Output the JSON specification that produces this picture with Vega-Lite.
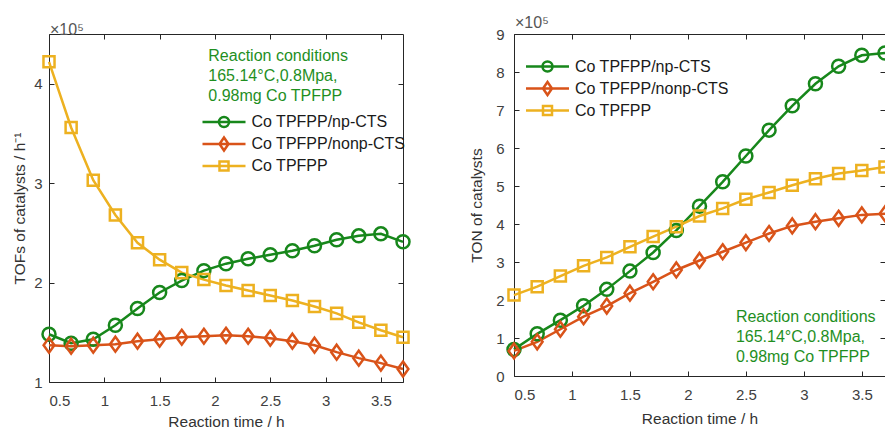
{
  "$schema": "https://vega.github.io/schema/vega-lite/v6.json",
  "padding": {"left": 12, "top": 14, "right": 0, "bottom": 0},
  "spacing": 111,
  "bounds": "flush",
  "background": "white",
  "config": {
    "font": "Liberation Sans",
    "view": {"stroke": "#262626", "strokeWidth": 1},
    "axis": {
      "labelFont": "Liberation Sans", "labelFontSize": 15, "labelColor": "#404040",
      "titleFont": "Liberation Sans", "titleFontSize": 15.5, "titleFontWeight": "normal", "titleColor": "#333333",
      "tickColor": "#262626", "tickSize": -5, "tickWidth": 1, "domain": false, "grid": false
    },
    "legend": {
      "labelFont": "Liberation Sans", "labelFontSize": 16, "labelColor": "#1a1a1a",
      "symbolSize": 100, "symbolStrokeWidth": 2.5, "labelOffset": 19.5, "rowPadding": 0
    }
  },
  "datasets": {
    "tof": [
      {"t": 0.5, "s": "Co TPFPP/np-CTS", "v": 1.48}, {"t": 0.7, "s": "Co TPFPP/np-CTS", "v": 1.39}, {"t": 0.9, "s": "Co TPFPP/np-CTS", "v": 1.43},
      {"t": 1.1, "s": "Co TPFPP/np-CTS", "v": 1.57}, {"t": 1.3, "s": "Co TPFPP/np-CTS", "v": 1.74}, {"t": 1.5, "s": "Co TPFPP/np-CTS", "v": 1.90},
      {"t": 1.7, "s": "Co TPFPP/np-CTS", "v": 2.02}, {"t": 1.9, "s": "Co TPFPP/np-CTS", "v": 2.12}, {"t": 2.1, "s": "Co TPFPP/np-CTS", "v": 2.19},
      {"t": 2.3, "s": "Co TPFPP/np-CTS", "v": 2.24}, {"t": 2.5, "s": "Co TPFPP/np-CTS", "v": 2.28}, {"t": 2.7, "s": "Co TPFPP/np-CTS", "v": 2.32},
      {"t": 2.9, "s": "Co TPFPP/np-CTS", "v": 2.37}, {"t": 3.1, "s": "Co TPFPP/np-CTS", "v": 2.43}, {"t": 3.3, "s": "Co TPFPP/np-CTS", "v": 2.47},
      {"t": 3.5, "s": "Co TPFPP/np-CTS", "v": 2.49}, {"t": 3.7, "s": "Co TPFPP/np-CTS", "v": 2.41},
      {"t": 0.5, "s": "Co TPFPP/nonp-CTS", "v": 1.37}, {"t": 0.7, "s": "Co TPFPP/nonp-CTS", "v": 1.36}, {"t": 0.9, "s": "Co TPFPP/nonp-CTS", "v": 1.37},
      {"t": 1.1, "s": "Co TPFPP/nonp-CTS", "v": 1.38}, {"t": 1.3, "s": "Co TPFPP/nonp-CTS", "v": 1.41}, {"t": 1.5, "s": "Co TPFPP/nonp-CTS", "v": 1.43},
      {"t": 1.7, "s": "Co TPFPP/nonp-CTS", "v": 1.45}, {"t": 1.9, "s": "Co TPFPP/nonp-CTS", "v": 1.46}, {"t": 2.1, "s": "Co TPFPP/nonp-CTS", "v": 1.47},
      {"t": 2.3, "s": "Co TPFPP/nonp-CTS", "v": 1.46}, {"t": 2.5, "s": "Co TPFPP/nonp-CTS", "v": 1.44}, {"t": 2.7, "s": "Co TPFPP/nonp-CTS", "v": 1.41},
      {"t": 2.9, "s": "Co TPFPP/nonp-CTS", "v": 1.37}, {"t": 3.1, "s": "Co TPFPP/nonp-CTS", "v": 1.30}, {"t": 3.3, "s": "Co TPFPP/nonp-CTS", "v": 1.24},
      {"t": 3.5, "s": "Co TPFPP/nonp-CTS", "v": 1.19}, {"t": 3.7, "s": "Co TPFPP/nonp-CTS", "v": 1.13},
      {"t": 0.5, "s": "Co TPFPP", "v": 4.22}, {"t": 0.7, "s": "Co TPFPP", "v": 3.56}, {"t": 0.9, "s": "Co TPFPP", "v": 3.03},
      {"t": 1.1, "s": "Co TPFPP", "v": 2.68}, {"t": 1.3, "s": "Co TPFPP", "v": 2.40}, {"t": 1.5, "s": "Co TPFPP", "v": 2.23},
      {"t": 1.7, "s": "Co TPFPP", "v": 2.10}, {"t": 1.9, "s": "Co TPFPP", "v": 2.03}, {"t": 2.1, "s": "Co TPFPP", "v": 1.97},
      {"t": 2.3, "s": "Co TPFPP", "v": 1.92}, {"t": 2.5, "s": "Co TPFPP", "v": 1.87}, {"t": 2.7, "s": "Co TPFPP", "v": 1.82},
      {"t": 2.9, "s": "Co TPFPP", "v": 1.76}, {"t": 3.1, "s": "Co TPFPP", "v": 1.69}, {"t": 3.3, "s": "Co TPFPP", "v": 1.60},
      {"t": 3.5, "s": "Co TPFPP", "v": 1.52}, {"t": 3.7, "s": "Co TPFPP", "v": 1.45}
    ],
    "ton": [
      {"t": 0.5, "s": "Co TPFPP/np-CTS", "v": 0.70}, {"t": 0.7, "s": "Co TPFPP/np-CTS", "v": 1.11}, {"t": 0.9, "s": "Co TPFPP/np-CTS", "v": 1.47},
      {"t": 1.1, "s": "Co TPFPP/np-CTS", "v": 1.85}, {"t": 1.3, "s": "Co TPFPP/np-CTS", "v": 2.28}, {"t": 1.5, "s": "Co TPFPP/np-CTS", "v": 2.76},
      {"t": 1.7, "s": "Co TPFPP/np-CTS", "v": 3.25}, {"t": 1.9, "s": "Co TPFPP/np-CTS", "v": 3.83}, {"t": 2.1, "s": "Co TPFPP/np-CTS", "v": 4.47},
      {"t": 2.3, "s": "Co TPFPP/np-CTS", "v": 5.11}, {"t": 2.5, "s": "Co TPFPP/np-CTS", "v": 5.79}, {"t": 2.7, "s": "Co TPFPP/np-CTS", "v": 6.47},
      {"t": 2.9, "s": "Co TPFPP/np-CTS", "v": 7.11}, {"t": 3.1, "s": "Co TPFPP/np-CTS", "v": 7.69}, {"t": 3.3, "s": "Co TPFPP/np-CTS", "v": 8.15},
      {"t": 3.5, "s": "Co TPFPP/np-CTS", "v": 8.44}, {"t": 3.7, "s": "Co TPFPP/np-CTS", "v": 8.50},
      {"t": 0.5, "s": "Co TPFPP/nonp-CTS", "v": 0.66}, {"t": 0.7, "s": "Co TPFPP/nonp-CTS", "v": 0.90}, {"t": 0.9, "s": "Co TPFPP/nonp-CTS", "v": 1.23},
      {"t": 1.1, "s": "Co TPFPP/nonp-CTS", "v": 1.56}, {"t": 1.3, "s": "Co TPFPP/nonp-CTS", "v": 1.84}, {"t": 1.5, "s": "Co TPFPP/nonp-CTS", "v": 2.18},
      {"t": 1.7, "s": "Co TPFPP/nonp-CTS", "v": 2.48}, {"t": 1.9, "s": "Co TPFPP/nonp-CTS", "v": 2.79}, {"t": 2.1, "s": "Co TPFPP/nonp-CTS", "v": 3.04},
      {"t": 2.3, "s": "Co TPFPP/nonp-CTS", "v": 3.27}, {"t": 2.5, "s": "Co TPFPP/nonp-CTS", "v": 3.51}, {"t": 2.7, "s": "Co TPFPP/nonp-CTS", "v": 3.75},
      {"t": 2.9, "s": "Co TPFPP/nonp-CTS", "v": 3.95}, {"t": 3.1, "s": "Co TPFPP/nonp-CTS", "v": 4.06}, {"t": 3.3, "s": "Co TPFPP/nonp-CTS", "v": 4.15},
      {"t": 3.5, "s": "Co TPFPP/nonp-CTS", "v": 4.24}, {"t": 3.7, "s": "Co TPFPP/nonp-CTS", "v": 4.27},
      {"t": 0.5, "s": "Co TPFPP", "v": 2.13}, {"t": 0.7, "s": "Co TPFPP", "v": 2.35}, {"t": 0.9, "s": "Co TPFPP", "v": 2.63},
      {"t": 1.1, "s": "Co TPFPP", "v": 2.90}, {"t": 1.3, "s": "Co TPFPP", "v": 3.12}, {"t": 1.5, "s": "Co TPFPP", "v": 3.40},
      {"t": 1.7, "s": "Co TPFPP", "v": 3.67}, {"t": 1.9, "s": "Co TPFPP", "v": 3.93}, {"t": 2.1, "s": "Co TPFPP", "v": 4.21},
      {"t": 2.3, "s": "Co TPFPP", "v": 4.41}, {"t": 2.5, "s": "Co TPFPP", "v": 4.65}, {"t": 2.7, "s": "Co TPFPP", "v": 4.83},
      {"t": 2.9, "s": "Co TPFPP", "v": 5.02}, {"t": 3.1, "s": "Co TPFPP", "v": 5.19}, {"t": 3.3, "s": "Co TPFPP", "v": 5.33},
      {"t": 3.5, "s": "Co TPFPP", "v": 5.41}, {"t": 3.7, "s": "Co TPFPP", "v": 5.50}
    ]
  },
  "resolve": {"scale": {"color": "independent"}, "legend": {"color": "independent"}},
  "hconcat": [
    {
      "width": 354, "height": 348,
      "title": {"text": "×10⁵", "anchor": "start", "frame": "group", "fontSize": 16, "fontWeight": "normal", "color": "#555555", "font": "Liberation Sans", "offset": -4, "dx": 1},
      "data": {"name": "tof"},
      "resolve": {"axis": {"x": "independent", "y": "independent"}},
      "layer": [
        {
          "mark": {"type": "line", "strokeWidth": 2.5},
          "encoding": {
            "x": {"field": "t", "type": "quantitative", "scale": {"domain": [0.5, 3.7], "nice": false, "zero": false},
                  "axis": {"title": "Reaction time / h", "values": [0.5, 1, 1.5, 2, 2.5, 3, 3.5], "format": "~g", "labelPadding": 16, "titlePadding": 6}},
            "y": {"field": "v", "type": "quantitative", "scale": {"domain": [1, 4.5], "nice": false, "zero": false},
                  "axis": {"title": "TOFs of catalysts / h⁻¹", "values": [1, 2, 3, 4], "format": "~g", "labelPadding": 12, "titlePadding": 6}},
            "color": {"field": "s", "type": "nominal",
                      "scale": {"domain": ["Co TPFPP/np-CTS", "Co TPFPP/nonp-CTS", "Co TPFPP"], "range": ["#17871b", "#d95319", "#edb120"]},
                      "legend": {"orient": "none", "legendX": 167, "legendY": 80, "title": null,
                                 "encode": {"symbols": {"update": {"shape": {"signal": "datum.value === 'Co TPFPP' ? 'M-4.3,0H4.3M-0.9,-0.9H0.9V0.9H-0.9Z' : datum.value === 'Co TPFPP/np-CTS' ? 'M-4.3,0H4.3M-1,0A1,1,0,1,1,1,0A1,1,0,1,1,-1,0Z' : 'M-4.3,0H4.3M0,-1.3L0.9,0L0,1.3L-0.9,0Z'"}, "fill": {"value": "transparent"}, "strokeWidth": {"value": 2.5}}}}}}
          }
        },
        {
          "transform": [{"filter": "datum.s === 'Co TPFPP/np-CTS'"}],
          "mark": {"type": "point", "shape": "circle", "filled": false, "strokeWidth": 2.5, "opacity": 1, "size": 169},
          "encoding": {
            "x": {"field": "t", "type": "quantitative", "axis": null},
            "y": {"field": "v", "type": "quantitative", "axis": null},
            "color": {"field": "s", "type": "nominal"}
          }
        },
        {
          "transform": [{"filter": "datum.s === 'Co TPFPP/nonp-CTS'"}],
          "mark": {"type": "point", "shape": "M0,-1.15L0.83,0L0,1.15L-0.83,0Z", "filled": false, "strokeWidth": 2.5, "opacity": 1, "size": 169},
          "encoding": {
            "x": {"field": "t", "type": "quantitative", "axis": null},
            "y": {"field": "v", "type": "quantitative", "axis": null},
            "color": {"field": "s", "type": "nominal"}
          }
        },
        {
          "transform": [{"filter": "datum.s === 'Co TPFPP'"}],
          "mark": {"type": "point", "shape": "M-0.85,-0.85H0.85V0.85H-0.85Z", "filled": false, "strokeWidth": 2.5, "opacity": 1, "size": 169},
          "encoding": {
            "x": {"field": "t", "type": "quantitative", "axis": null},
            "y": {"field": "v", "type": "quantitative", "axis": null},
            "color": {"field": "s", "type": "nominal"}
          }
        },
        {
          "data": {"values": [{}]},
          "mark": {"type": "text", "text": ["Reaction conditions", "165.14°C,0.8Mpa,", "0.98mg Co TPFPP"], "align": "left", "baseline": "top", "fontSize": 16, "lineHeight": 20, "color": "#1f8f1f", "font": "Liberation Sans"},
          "encoding": {
            "x": {"datum": 1.94, "type": "quantitative", "axis": {"orient": "top", "labels": false, "title": null, "values": [0.5, 1, 1.5, 2, 2.5, 3, 3.5]}},
            "y": {"datum": 4.364, "type": "quantitative", "axis": {"orient": "right", "labels": false, "title": null, "values": [1, 2, 3, 4]}}
          }
        }
      ]
    },
    {
      "width": 371, "height": 342,
      "title": {"text": "×10⁵", "anchor": "start", "frame": "group", "fontSize": 16, "fontWeight": "normal", "color": "#555555", "font": "Liberation Sans", "offset": -4, "dx": 1},
      "data": {"name": "ton"},
      "resolve": {"axis": {"x": "independent", "y": "independent"}},
      "layer": [
        {
          "mark": {"type": "line", "strokeWidth": 2.5},
          "encoding": {
            "x": {"field": "t", "type": "quantitative", "scale": {"domain": [0.5, 3.7], "nice": false, "zero": false},
                  "axis": {"title": "Reaction time / h", "values": [0.5, 1, 1.5, 2, 2.5, 3, 3.5], "format": "~g", "labelPadding": 16, "titlePadding": 9}},
            "y": {"field": "v", "type": "quantitative", "scale": {"domain": [0, 9], "nice": false, "zero": false},
                  "axis": {"title": "TON of catalysts", "values": [0, 1, 2, 3, 4, 5, 6, 7, 8, 9], "format": "~g", "labelPadding": 15, "titlePadding": 11}},
            "color": {"field": "s", "type": "nominal",
                      "scale": {"domain": ["Co TPFPP/np-CTS", "Co TPFPP/nonp-CTS", "Co TPFPP"], "range": ["#17871b", "#d95319", "#edb120"]},
                      "legend": {"orient": "none", "legendX": 25.5, "legendY": 24.5, "title": null,
                                 "encode": {"symbols": {"update": {"shape": {"signal": "datum.value === 'Co TPFPP' ? 'M-4.3,0H4.3M-0.9,-0.9H0.9V0.9H-0.9Z' : datum.value === 'Co TPFPP/np-CTS' ? 'M-4.3,0H4.3M-1,0A1,1,0,1,1,1,0A1,1,0,1,1,-1,0Z' : 'M-4.3,0H4.3M0,-1.3L0.9,0L0,1.3L-0.9,0Z'"}, "fill": {"value": "transparent"}, "strokeWidth": {"value": 2.5}}}}}}
          }
        },
        {
          "transform": [{"filter": "datum.s === 'Co TPFPP/np-CTS'"}],
          "mark": {"type": "point", "shape": "circle", "filled": false, "strokeWidth": 2.5, "opacity": 1, "size": 169},
          "encoding": {
            "x": {"field": "t", "type": "quantitative", "axis": null},
            "y": {"field": "v", "type": "quantitative", "axis": null},
            "color": {"field": "s", "type": "nominal"}
          }
        },
        {
          "transform": [{"filter": "datum.s === 'Co TPFPP/nonp-CTS'"}],
          "mark": {"type": "point", "shape": "M0,-1.15L0.83,0L0,1.15L-0.83,0Z", "filled": false, "strokeWidth": 2.5, "opacity": 1, "size": 169},
          "encoding": {
            "x": {"field": "t", "type": "quantitative", "axis": null},
            "y": {"field": "v", "type": "quantitative", "axis": null},
            "color": {"field": "s", "type": "nominal"}
          }
        },
        {
          "transform": [{"filter": "datum.s === 'Co TPFPP'"}],
          "mark": {"type": "point", "shape": "M-0.85,-0.85H0.85V0.85H-0.85Z", "filled": false, "strokeWidth": 2.5, "opacity": 1, "size": 169},
          "encoding": {
            "x": {"field": "t", "type": "quantitative", "axis": null},
            "y": {"field": "v", "type": "quantitative", "axis": null},
            "color": {"field": "s", "type": "nominal"}
          }
        },
        {
          "data": {"values": [{}]},
          "mark": {"type": "text", "text": ["Reaction conditions", "165.14°C,0.8Mpa,", "0.98mg Co TPFPP"], "align": "left", "baseline": "top", "fontSize": 16, "lineHeight": 20, "color": "#1f8f1f", "font": "Liberation Sans"},
          "encoding": {
            "x": {"datum": 2.414, "type": "quantitative", "axis": {"orient": "top", "labels": false, "title": null, "values": [0.5, 1, 1.5, 2, 2.5, 3, 3.5]}},
            "y": {"datum": 1.756, "type": "quantitative", "axis": {"orient": "right", "labels": false, "title": null, "values": [0, 1, 2, 3, 4, 5, 6, 7, 8, 9]}}
          }
        }
      ]
    }
  ]
}
